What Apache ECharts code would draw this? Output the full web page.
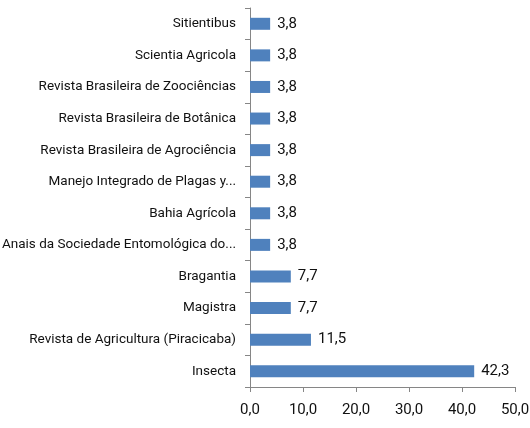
<!DOCTYPE html>
<html>
<head>
<meta charset="utf-8">
<script src="https://cdn.jsdelivr.net/npm/echarts@6/dist/echarts.min.js"></script>
<style>
  html, body { margin: 0; padding: 0; background: #fff; }
  #chart { width: 530px; height: 428px; }
</style>
</head>
<body>
<div id="chart"></div>
<script>
// categories from top to bottom
const journals = [
  'Sitientibus',
  'Scientia Agricola',
  'Revista Brasileira de Zoociências',
  'Revista Brasileira de Botânica',
  'Revista Brasileira de Agrociência',
  'Manejo Integrado de Plagas y...',
  'Bahia Agrícola',
  'Anais da Sociedade Entomológica do...',
  'Bragantia',
  'Magistra',
  'Revista de Agricultura (Piracicaba)',
  'Insecta'
];
const percents = [3.8, 3.8, 3.8, 3.8, 3.8, 3.8, 3.8, 3.8, 7.7, 7.7, 11.5, 42.3];

const fontFamily = 'Roboto, "Open Sans", sans-serif';
const fmt = v => v.toFixed(1).replace('.', ',');

const chart = echarts.init(document.getElementById('chart'));

const option = {
  animation: false,
  grid: { left: 250, right: 15, top: 8, bottom: 41, containLabel: false, outerBoundsMode: 'none' },
  xAxis: {
    type: 'value',
    min: 0,
    max: 50,
    interval: 10,
    axisLine: { show: true, lineStyle: { color: '#868686' } },
    axisTick: { show: true, length: 5, lineStyle: { color: '#868686' } },
    splitLine: { show: false },
    axisLabel: {
      color: '#111',
      fontFamily,
      fontSize: 15,
      margin: 16,
      formatter: v => fmt(v)
    }
  },
  yAxis: {
    type: 'category',
    inverse: true,
    data: journals,
    axisLine: { show: true, lineStyle: { color: '#868686' } },
    axisTick: { show: true, length: 5, lineStyle: { color: '#868686' } },
    axisLabel: {
      color: '#111',
      fontFamily,
      fontSize: 13.5,
      margin: 14
    }
  },
  series: [
    {
      type: 'bar',
      data: percents,
      barWidth: 12,
      itemStyle: { color: '#4F81BD' },
      label: {
        show: true,
        position: 'right',
        distance: 7,
        color: '#111',
        fontFamily,
        fontSize: 15,
        formatter: p => fmt(p.value)
      }
    }
  ]
};

chart.setOption(option);
</script>
</body>
</html>
